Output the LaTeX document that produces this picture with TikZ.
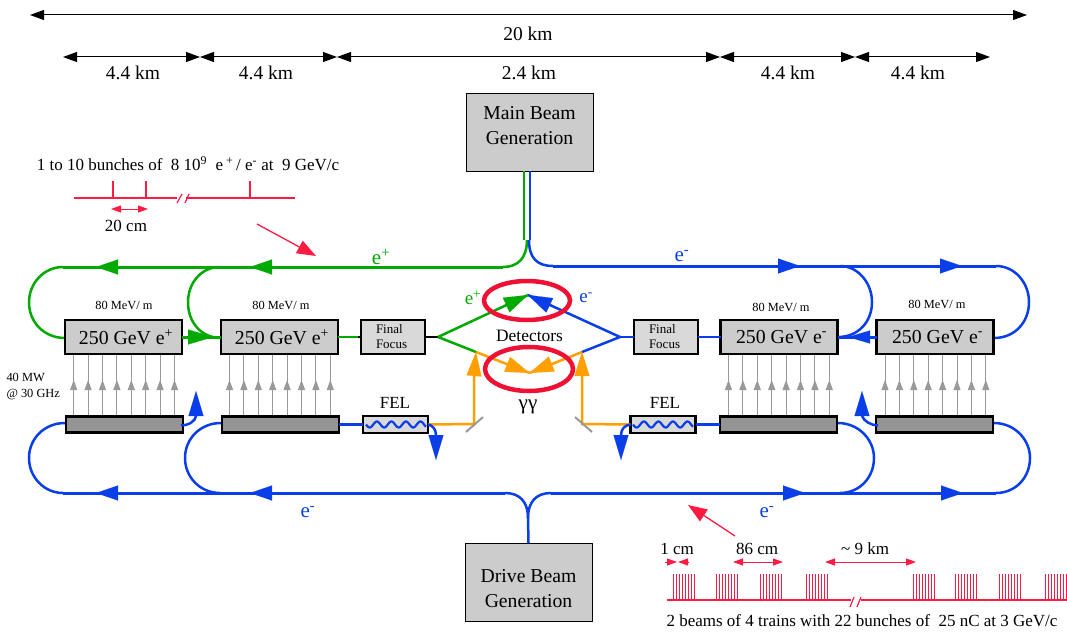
\documentclass[tikz,border=0pt]{standalone}
\usepackage{fontspec}
\setmainfont{Liberation Serif}
\usetikzlibrary{arrows.meta}
\definecolor{cgreen}{HTML}{00AA00}
\definecolor{cblue}{HTML}{0A3EE8}
\definecolor{cred}{HTML}{FF1A44}
\definecolor{cring}{HTML}{EE1133}
\definecolor{corange}{HTML}{FFA000}
\definecolor{cgrey}{HTML}{999999}
\tikzset{
  x=1pt,y=-1pt,
  every node/.style={inner sep=0pt,outer sep=0pt,align=center},
  greenln/.style={draw=cgreen,line width=2.5pt},
  blueln/.style={draw=cblue,line width=2.5pt},
  orangeln/.style={draw=corange,line width=2.5pt},
  blackln/.style={draw=black,line width=2.5pt},
  bigtip/.style={-{Triangle[length=22pt,width=15pt]}},
  dim/.style={draw=black,line width=1pt,{Triangle[length=14pt,width=10pt]}-{Triangle[length=14pt,width=10pt]}},
  rdim/.style={draw=cred,line width=1pt,{Triangle[length=10pt,width=7pt]}-{Triangle[length=10pt,width=7pt]}},
  rline/.style={draw=cred,line width=1.2pt},
  rtick/.style={draw=cred,line width=1pt},
  rtip/.style={draw=cred,line width=1.3pt,-{Triangle[length=19pt,width=14pt]}},
  genbox/.style={draw=black,line width=1pt,fill=black!20,minimum width=127pt,minimum height=78pt,font=\fontsize{19.7}{25}\selectfont},
  accbox/.style={draw=black,line width=2.5pt,fill=black!20,minimum width=117pt,minimum height=34pt,font=\fontsize{19.8}{22}\selectfont},
  klybox/.style={draw=black,line width=2.5pt,fill=black!42,minimum width=117pt,minimum height=16pt},
  ffbox/.style={draw=black,line width=2.5pt,fill=black!15,minimum width=64pt,minimum height=34pt,font=\fontsize{13}{15}\selectfont,align=left},
  felbox/.style={draw=black,line width=2.5pt,fill=black!15,minimum width=65pt,minimum height=17pt},
  lab/.style={font=\fontsize{19.5}{22}\selectfont},
  midlab/.style={font=\fontsize{17}{20}\selectfont},
  rflab/.style={font=\fontsize{12.4}{16}\selectfont},
  rf/.style={draw=cgrey,line width=1pt},
  rfhead/.style={draw=cgrey,line width=1pt,-{Triangle[length=10pt,width=7pt]}},
  mirror/.style={draw=cgrey,line width=2pt},
  ring/.style={draw=cring,line width=4.5pt},
}
\newcommand\gunit[2]{%
  \foreach \k in {0,...,7}{
    \pgfmathsetmacro\gx{#1+\k*14.4}
    \draw[rf] (\gx,416) -- (\gx,#2);
    \draw[rfhead] (\gx,400) -- (\gx,380);
  }}
\newcommand\trainat[1]{%
  \foreach \k in {0,...,7}{
    \pgfmathsetmacro\tx{#1+\k*3}
    \draw[rtick] (\tx,574) -- (\tx,600);
  }}
\begin{document}
\begin{tikzpicture}
\useasboundingbox (0,0) rectangle (1067,634);

% dimension rows
\coordinate (t0) at (30,15); \coordinate (t1) at (1027,15);
\draw[dim] (t0) -- (t1);
\node[lab] (l20) at (528,34) {20 km};
\foreach \n/\a/\b in {a/63/200,b/200/337,c/337/720,d/720/855,e/855/990}{
  \coordinate (s\n) at (\a,57); \coordinate (e\n) at (\b,57);
  \draw[dim] (s\n) -- (e\n);
}
\node[lab] (la) at (133,73) {4.4 km};
\node[lab] (lb) at (266,73) {4.4 km};
\node[lab] (lc) at (529,73) {2.4 km};
\node[lab] (ld) at (788,73) {4.4 km};
\node[lab] (le) at (918,73) {4.4 km};

% generators
\node[genbox] (main) at (529.5,132) {Main Beam\\Generation\\[-11pt]\rule{0pt}{0pt}};
\node[genbox] (drive) at (528.5,582) {\rule{0pt}{0pt}\\[1pt]Drive Beam\\Generation};

% green top line
\coordinate (gv) at (524,171);
\coordinate (gj) at (503,267);
\coordinate (g1) at (63,267);
\coordinate (g2) at (220,267);
\draw[greenln] (gv) -- (524,240);
\draw[greenln] (527,240) .. controls (527,258) and (518,267) .. (gj);
\draw[draw=cgreen,line width=3pt] (gj) -- (g1);
\draw[greenln] (g1) .. controls (44,267) and (29,283) .. (29,302.5) .. controls (29,322) and (44,338) .. (65,338);
\draw[greenln] (g2) .. controls (201,267) and (188,283) .. (188,302.5) .. controls (188,322) and (201,338) .. (221,338);
\coordinate (gt1) at (96,267); \coordinate (gb1) at (118,267);
\coordinate (gt2) at (250,267); \coordinate (gb2) at (272,267);
\draw[draw=cgreen,line width=.1pt,bigtip] (gb1) -- (gt1);
\draw[draw=cgreen,line width=.1pt,bigtip] (gb2) -- (gt2);
\node[font=\fontsize{21}{24}\selectfont,text=cgreen] (ep1) at (381,257) {e\textsuperscript{+}};

% blue top line
\coordinate (bv) at (530,171);
\coordinate (bj) at (553,266);
\coordinate (b1) at (840,266);
\coordinate (b2) at (996,266);
\draw[blueln] (bv) -- (530,240);
\draw[blueln] (529,240) .. controls (529,258) and (537,266) .. (bj);
\draw[draw=cblue,line width=3pt] (bj) -- (b2);
\draw[blueln] (b1) .. controls (858,266) and (872,283) .. (872,302) .. controls (872,322) and (858,337) .. (838,337);
\draw[blueln] (b2) .. controls (1015,266) and (1029,283) .. (1029,302) .. controls (1029,322) and (1015,338) .. (994,338);
\coordinate (bt1) at (800,266); \coordinate (bb1) at (778,266);
\coordinate (bt2) at (962,266); \coordinate (bb2) at (941,266);
\draw[draw=cblue,line width=.1pt,bigtip] (bb1) -- (bt1);
\draw[draw=cblue,line width=.1pt,bigtip] (bb2) -- (bt2);
\node[font=\fontsize{21}{24}\selectfont,text=cblue] (em1) at (682,256) {e\textsuperscript{-}};

% bottom blue line
\coordinate (dj) at (528,518);
\coordinate (dl) at (505,493);
\coordinate (dr) at (551,493);
\coordinate (d1) at (63,493);
\coordinate (d2) at (220,493);
\coordinate (d3) at (840,493);
\coordinate (d4) at (996,493);
\draw[blueln] (drive.north) -- (dj);
\draw[blueln] (dj) .. controls (528,502) and (520,493) .. (dl);
\draw[blueln] (dj) .. controls (528,502) and (536,493) .. (dr);
\draw[draw=cblue,line width=3pt] (dl) -- (d1);
\draw[draw=cblue,line width=3pt] (dr) -- (d4);
\draw[blueln] (d1) .. controls (44,493) and (29,477) .. (29,458) .. controls (29,439) and (44,423) .. (65,423);
\draw[blueln] (d2) .. controls (200,493) and (185,477) .. (185,458) .. controls (185,439) and (200,423) .. (221,423);
\draw[blueln] (d3) .. controls (860,493) and (874,477) .. (874,458) .. controls (874,439) and (858,423) .. (838,423);
\draw[blueln] (d4) .. controls (1016,493) and (1030,477) .. (1030,458) .. controls (1030,439) and (1014,423) .. (994,423);
\coordinate (dt1) at (96,493); \coordinate (db1) at (118,493);
\coordinate (dt2) at (250,493); \coordinate (db2) at (272,493);
\coordinate (dt3) at (805,493); \coordinate (db3) at (783,493);
\coordinate (dt4) at (963,493); \coordinate (db4) at (941,493);
\draw[draw=cblue,line width=.1pt,bigtip] (db1) -- (dt1);
\draw[draw=cblue,line width=.1pt,bigtip] (db2) -- (dt2);
\draw[draw=cblue,line width=.1pt,bigtip] (db3) -- (dt3);
\draw[draw=cblue,line width=.1pt,bigtip] (db4) -- (dt4);
\node[font=\fontsize{21}{24}\selectfont,text=cblue] (em2) at (308,512) {e\textsuperscript{-}};
\node[font=\fontsize{21}{24}\selectfont,text=cblue] (em3) at (767,512) {e\textsuperscript{-}};

% accelerators
\gunit{73.7}{354}
\gunit{229.5}{354}
\gunit{728.5}{354}
\gunit{885}{354}
\node[klybox] (k1) at (124.5,424.5) {};
\node[klybox] (k2) at (280.5,424.5) {};
\node[klybox] (k3) at (778.5,424.5) {};
\node[klybox] (k4) at (934.5,424.5) {};
\node[accbox] (a1) at (123.5,337) {\hspace*{5pt}250 GeV e\textsuperscript{+}};
\node[accbox] (a2) at (279.5,337) {\hspace*{5pt}250 GeV e\textsuperscript{+}};
\node[accbox] (a3) at (779,337) {\hspace*{5pt}250 GeV e\textsuperscript{-}};
\node[accbox] (a4) at (935,337) {\hspace*{5pt}250 GeV e\textsuperscript{-}};
\node[rflab] (m1) at (124,305) {80 MeV/ m};
\node[rflab] (m2) at (281,305) {80 MeV/ m};
\node[rflab] (m3) at (781,307) {80 MeV/ m};
\node[rflab] (m4) at (937,304) {80 MeV/ m};
\node[rflab,align=left,anchor=west] (rfl) at (6.5,387) {40 MW\\@ 30 GHz};

% accelerator links
\node[ffbox,text width=34pt] (f1) at (393,337) {Final\\Focus};
\node[ffbox,text width=34pt] (f2) at (666,337) {Final\\Focus};
\coordinate (gc) at (438,337);
\coordinate (bc) at (620,337);
\draw[draw=cgreen,line width=3pt] (a1.east) -- (a2.west);
\draw[draw=cgreen,line width=.1pt,-{Triangle[length=25pt,width=15pt]}] (188,337) -- (213,337);
\draw[greenln] (a2.east) -- (358,337);
\draw[blackln] (358,337) -- (f1.west);
\draw[blackln] (f1.east) -- (gc);
\draw[blueln] (bc) -- (f2.west);
\draw[blueln] (f2.east) -- (a3.west);
\draw[draw=cblue,line width=3pt] (a3.east) -- (a4.west);
\draw[draw=cblue,line width=.1pt,-{Triangle[length=22pt,width=13pt]}] (870,337) -- (848,337);

% interaction region
\coordinate (ipt) at (528,295);
\coordinate (ipb) at (529.5,373);
\coordinate (gs) at (476,352);
\coordinate (bs) at (582,352);
\draw[orangeln] (gs) -- (ipb);
\draw[orangeln] (bs) -- (ipb);
\draw[draw=corange,line width=.1pt,-{Triangle[length=24pt,width=16pt]}] (500,361.5) -- (ipb);
\draw[draw=corange,line width=.1pt,-{Triangle[length=24pt,width=16pt]}] (558,361.5) -- (ipb);
\draw[greenln] (gc) -- (gs);
\draw[blueln] (bc) -- (bs);
\draw[greenln] (gc) -- (ipt);
\draw[blueln] (bc) -- (ipt);
\draw[draw=cgreen,line width=.1pt,-{Triangle[length=24pt,width=16pt]}] (504,306) -- (ipt);
\draw[draw=cblue,line width=.1pt,-{Triangle[length=24pt,width=16pt]}] (551,306) -- (ipt);
\draw[ring] (527,300.5) ellipse [x radius=43,y radius=19.5];
\draw[ring] (529,369) ellipse [x radius=44,y radius=22];
\node[font=\fontsize{17.4}{20}\selectfont] (det) at (529.5,336) {Detectors};
\node[font=\fontsize{21}{24}\selectfont] (gg) at (528,407) {γγ};
\node[font=\fontsize{19}{22}\selectfont,text=cgreen] (ep2) at (473,298) {e\textsuperscript{+}};
\node[font=\fontsize{19}{22}\selectfont,text=cblue] (em4) at (586,298) {e\textsuperscript{-}};

% FEL and laser paths
\node[felbox] (fl) at (395.5,424.5) {};
\node[felbox] (fr) at (663,424.5) {};
\draw[draw=cblue,line width=2.2pt] plot[domain=0:60,samples=80,smooth] ({366+\x},{424.5+3*sin(\x*24.8)});
\draw[draw=cblue,line width=2.2pt] plot[domain=0:60,samples=80,smooth] ({633+\x},{424.5+3*sin(\x*24.8)});
\node[font=\fontsize{17}{20}\selectfont] (fell) at (395,403) {FEL};
\node[font=\fontsize{17}{20}\selectfont] (felr) at (665,403) {FEL};
\draw[blueln] (k2.east) -- (fl.west);
\draw[blueln] (fr.east) -- (k3.west);
\coordinate (mirl) at (474,424);
\coordinate (mirr) at (582,424);
\draw[orangeln] (fl.east) -- (mirl) -- (474,376);
\draw[orangeln] (fr.west) -- (mirr) -- (582,376);
\draw[draw=corange,line width=.1pt,-{Triangle[length=24pt,width=15pt]}] (474,376) -- (gs);
\draw[draw=corange,line width=.1pt,-{Triangle[length=24pt,width=15pt]}] (582,376) -- (bs);
\draw[mirror] (466,432) -- (483,417);
\draw[mirror] (575,417) -- (592,432);
% spent beam arrows
\coordinate (sa1) at (196,416);
\coordinate (sa2) at (862,416);
\coordinate (sa3) at (436,435);
\coordinate (sa4) at (621,435);
\draw[blueln] (k1.east) ++(-2,1) .. controls (190,425) and (195,421) .. (sa1);
\draw[blueln] (k4.west) ++(2,1) .. controls (870,425) and (864,421) .. (sa2);
\draw[blueln] (fl.east) .. controls (432,425) and (436,429) .. (sa3);
\draw[blueln] (fr.west) .. controls (625,425) and (621,429) .. (sa4);
\draw[draw=cblue,line width=.1pt,-{Triangle[length=25pt,width=15pt]}] (sa1) -- (196,391);
\draw[draw=cblue,line width=.1pt,-{Triangle[length=25pt,width=15pt]}] (sa2) -- (862,391);
\draw[draw=cblue,line width=.1pt,-{Triangle[length=25pt,width=15pt]}] (sa3) -- (436,460);
\draw[draw=cblue,line width=.1pt,-{Triangle[length=25pt,width=15pt]}] (sa4) -- (621,460);

% upper bunch structure
\node[midlab] (txt1) at (188,164) {1 to 10 bunches of\ \ 8 10\textsuperscript{9}\ \ e\,\textsuperscript{+}\,/ e\textsuperscript{-} at\ \ 9 GeV/c};
\coordinate (u0) at (74,198); \coordinate (u1) at (177,198);
\coordinate (u2) at (186,198); \coordinate (u3) at (295,198);
\draw[rline] (u0) -- (u1);
\draw[rline] (u2) -- (u3);
\draw[rline] (177,203) -- (182,194);
\draw[rline] (185,203) -- (189,194);
\foreach \ux in {113,146,250}{\draw[rline] (\ux,181) -- (\ux,198);}
\coordinate (u4) at (111,209); \coordinate (u5) at (148,209);
\draw[rdim] (u4) -- (u5);
\node[midlab] (txt2) at (126,226) {20 cm};
\coordinate (ua) at (257,224); \coordinate (ub) at (316,256);
\draw[rtip] (ua) -- (ub);

% lower bunch structure
\coordinate (va) at (735,536); \coordinate (vb) at (688,505);
\draw[rtip] (va) -- (vb);
\node[midlab] (txt3) at (677,549) {1 cm};
\node[midlab] (txt4) at (757,549) {86 cm};
\node[midlab] (txt5) at (865,549) {\textasciitilde\ 9 km};
\coordinate (w0) at (665,562); \coordinate (w1) at (677,562);
\coordinate (w2) at (689,562); \coordinate (w3) at (678,562);
\draw[draw=cred,line width=1pt,-{Triangle[length=10pt,width=7pt]}] (w0) -- (w1);
\draw[draw=cred,line width=1pt,-{Triangle[length=10pt,width=7pt]}] (w2) -- (w3);
\coordinate (w4) at (733,562); \coordinate (w5) at (783,562);
\draw[rdim] (w4) -- (w5);
\coordinate (w6) at (825,562); \coordinate (w7) at (916,562);
\draw[rdim] (w6) -- (w7);
\coordinate (x0) at (667,600); \coordinate (x1) at (851,600);
\coordinate (x2) at (861,600); \coordinate (x3) at (1067,600);
\draw[rline] (x0) -- (x1);
\draw[rline] (x2) -- (x3);
\draw[rline] (850,607) -- (854,597);
\draw[rline] (857,607) -- (861,597);
\trainat{673.5}
\trainat{716.5}
\trainat{760.5}
\trainat{806.5}
\trainat{913.5}
\trainat{955.5}
\trainat{999.5}
\trainat{1045.5}
\node[midlab] (txt6) at (862,621) {2 beams of 4 trains with 22 bunches of\ \ 25 nC at 3 GeV/c};
\end{tikzpicture}
\end{document}
